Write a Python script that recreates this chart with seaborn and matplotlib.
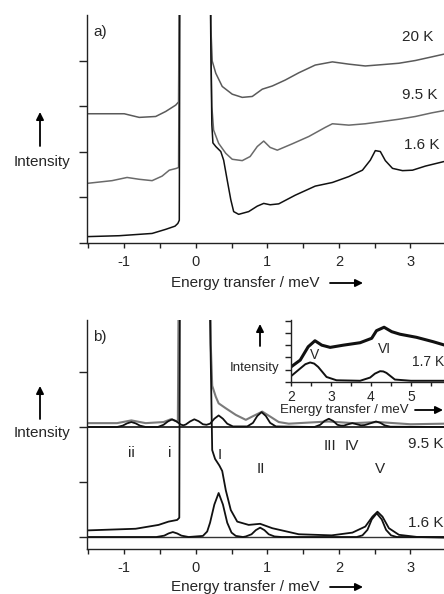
import matplotlib
matplotlib.use("Agg")
import matplotlib.pyplot as plt
from matplotlib.patches import FancyArrowPatch
from matplotlib.ticker import MultipleLocator
import seaborn as sns
import pandas as pd

sns.set_style("ticks")
plt.rcParams['font.family'] = ['Liberation Sans', 'DejaVu Sans']
plt.rcParams['axes.unicode_minus'] = False

# ---------------- Panel a data ----------------
a20_x = [-1.52, -1.0, -0.79, -0.56, -0.42, -0.28, -0.24, -0.215, 0.19, 0.21, 0.23, 0.28, 0.37, 0.51, 0.65,
         0.79, 0.93, 1.07, 1.25, 1.44, 1.67, 1.91, 2.14, 2.37, 2.61, 2.84, 3.07, 3.30, 3.47]
a20_y = [2.84, 2.84, 2.76, 2.78, 2.89, 3.03, 3.10, 10, 10, 4.8, 4.0, 3.73, 3.44, 3.27, 3.20,
         3.22, 3.38, 3.45, 3.58, 3.74, 3.91, 3.98, 3.93, 3.89, 3.92, 3.95, 4.01, 4.09, 4.15]
a95_x = [-1.52, -1.17, -0.96, -0.79, -0.61, -0.47, -0.37, -0.27, -0.24, -0.215, 0.19, 0.21, 0.225, 0.25,
         0.32, 0.42, 0.51, 0.65, 0.76, 0.86, 0.95, 1.04, 1.14, 1.35, 1.58, 1.81, 1.91, 2.14, 2.37,
         2.61, 2.84, 3.07, 3.30, 3.47]
a95_y = [1.31, 1.37, 1.44, 1.40, 1.37, 1.47, 1.60, 1.64, 1.66, 10, 10, 4.5, 3.0, 2.48,
         2.19, 1.97, 1.84, 1.81, 1.90, 2.12, 2.24, 2.10, 2.04, 2.18, 2.34, 2.54, 2.62, 2.59, 2.62,
         2.67, 2.72, 2.78, 2.86, 2.91]
a16_x = [-1.52, -1.07, -0.61, -0.42, -0.29, -0.25, -0.23, -0.215, 0.19, 0.21, 0.225, 0.24, 0.28, 0.35,
         0.39, 0.44, 0.49, 0.53, 0.60, 0.74, 0.86, 0.95, 1.04, 1.16, 1.39, 1.67, 1.91, 2.14, 2.33,
         2.44, 2.51, 2.58, 2.65, 2.75, 2.89, 3.03, 3.21, 3.47]
a16_y = [0.14, 0.16, 0.21, 0.30, 0.37, 0.43, 0.50, 10, 10, 4.5, 2.6, 2.2, 2.12, 2.01,
         1.82, 1.38, 0.95, 0.69, 0.63, 0.69, 0.81, 0.87, 0.84, 0.86, 1.05, 1.25, 1.33, 1.46, 1.60,
         1.82, 2.03, 2.01, 1.81, 1.64, 1.59, 1.60, 1.69, 1.79]
a_labels = ["20 K", "9.5 K", "1.6 K"]

# ---------------- Panel b data ----------------
b95_x = [-1.52, -1.10, -0.90, -0.70, -0.45, -0.35, -0.25, -0.215, 0.19, 0.21, 0.23, 0.28, 0.32, 0.42,
         0.56, 0.70, 0.79, 0.93, 1.04, 1.16, 1.30, 1.85, 2.20, 2.55, 3.00, 3.47]
b95_y = [2.07, 2.07, 2.12, 2.07, 2.09, 2.14, 2.10, 10, 10, 3.5, 2.75, 2.55, 2.43, 2.34,
         2.22, 2.13, 2.19, 2.28, 2.19, 2.09, 2.06, 2.10, 2.07, 2.09, 2.05, 2.06]
fit95_x = [-1.52, -1.10, -1.02, -0.96, -0.90, -0.84, -0.78, -0.70, -0.53, -0.45, -0.39, -0.33, -0.27,
           -0.21, -0.175, -0.14, -0.08, -0.02, 0.04, 0.10, 0.15, 0.20, 0.26, 0.32, 0.38, 0.44, 0.52,
           0.72, 0.80, 0.86, 0.92, 0.98, 1.04, 1.12, 1.66, 1.74, 1.80, 1.86, 1.92, 1.98, 2.03, 2.07,
           2.13, 2.19, 2.25, 2.31, 2.36, 2.40, 2.46, 2.52, 2.58, 2.64, 2.72, 3.47]
fit95_y = [2.0, 2.0, 2.025, 2.066, 2.09, 2.066, 2.025, 2.0, 2.0, 2.04, 2.10, 2.14, 2.10,
           2.045, 2.03, 2.045, 2.10, 2.14, 2.105, 2.05, 2.04, 2.06, 2.15, 2.21, 2.15, 2.06, 2.01,
           2.01, 2.075, 2.20, 2.27, 2.20, 2.075, 2.01, 2.0, 2.04, 2.11, 2.15, 2.11, 2.04, 2.025, 2.025,
           2.05, 2.07, 2.05, 2.03, 2.035, 2.05, 2.075, 2.10, 2.075, 2.03, 2.005, 2.0]
b16_x = [-1.52, -0.84, -0.52, -0.38, -0.26, -0.23, -0.21, 0.19, 0.20, 0.23, 0.27, 0.33, 0.37, 0.42,
         0.49, 0.58, 0.74, 0.90, 1.07, 1.44, 1.90, 2.19, 2.37, 2.47, 2.54, 2.61, 2.70, 2.84, 3.10, 3.47]
b16_y = [0.12, 0.15, 0.22, 0.28, 0.31, 0.35, 10, 10, 4.0, 1.58, 1.42, 1.30, 1.20, 0.85,
         0.49, 0.28, 0.22, 0.24, 0.16, 0.05, 0.03, 0.08, 0.19, 0.37, 0.46, 0.37, 0.16, 0.04, 0.0, -0.01]
fit16_x = [-1.52, -0.55, -0.44, -0.38, -0.32, -0.26, -0.20, -0.10, 0.10, 0.16, 0.20, 0.26, 0.32, 0.38,
           0.44, 0.50, 0.56, 0.66, 0.70, 0.78, 0.84, 0.90, 0.96, 1.02, 1.10, 1.20, 2.25, 2.33, 2.40,
           2.46, 2.53, 2.60, 2.66, 2.73, 2.81, 3.47]
fit16_y = [0.0, 0.0, 0.025, 0.065, 0.09, 0.065, 0.025, 0.0, 0.02, 0.10, 0.26, 0.59, 0.80, 0.59,
           0.26, 0.08, 0.02, 0.0, 0.01, 0.05, 0.125, 0.17, 0.125, 0.05, 0.01, 0.0, 0.0, 0.03, 0.13,
           0.32, 0.43, 0.32, 0.13, 0.03, 0.0, 0.0]
peak_names = ["ii", "i", "I", "II", "III", "IV", "V"]
peak_pos_x = [-0.90, -0.36, 0.34, 0.91, 1.87, 2.18, 2.57]
peak_pos_y = [1.53, 1.53, 1.49, 1.24, 1.65, 1.65, 1.24]

# ---------------- Inset data ----------------
ins_x = [2.0, 2.23, 2.43, 2.60, 2.77, 2.98, 3.31, 3.73, 4.02, 4.14, 4.33, 4.52, 4.73, 5.14, 5.56, 5.85]
ins_y = [1.23, 1.78, 2.87, 3.36, 3.00, 2.82, 3.00, 3.20, 3.56, 4.18, 4.46, 4.10, 3.89, 3.64, 3.28, 3.00]
insfit_x = [2.0, 2.23, 2.36, 2.48, 2.58, 2.68, 2.89, 3.14, 3.73, 3.98, 4.10, 4.23, 4.31, 4.39, 4.60, 5.0, 5.85]
insfit_y = [0.47, 1.10, 1.45, 1.59, 1.50, 1.23, 0.41, 0.14, 0.10, 0.36, 0.68, 0.88, 0.86, 0.74, 0.20, 0.10, 0.10]

W, H = 444, 594
fig = plt.figure(figsize=(W / 100, H / 100), dpi=100)

def fx(px):
    return px / W

def fy(py):
    return 1 - py / H

FS = 11
TICKFS = 10.5

def line(ax, x, y, color, lw):
    df = pd.DataFrame({"x": x, "y": y})
    sns.lineplot(data=df, x="x", y="y", ax=ax, sort=False, estimator=None,
                 color=color, lw=lw)

def style_axes(ax, ylen):
    for s in ["top", "right"]:
        ax.spines[s].set_visible(False)
    for s in ["left", "bottom"]:
        ax.spines[s].set_linewidth(1.0)
        ax.spines[s].set_color("#222222")
    ax.set_xlabel("")
    ax.set_ylabel("")
    ax.xaxis.set_major_locator(MultipleLocator(1))
    ax.xaxis.set_minor_locator(MultipleLocator(0.5))
    ax.tick_params(axis="x", which="both", length=3.5, width=1.0, labelsize=TICKFS, pad=5,
                   color="#222222")
    ax.tick_params(axis="y", which="both", length=ylen, width=1.0, labelleft=False,
                   color="#222222")

# ---------------- Panel a ----------------
ax_a = fig.add_axes([fx(87), fy(243), fx(W - 87), (243 - 15) / H])
line(ax_a, a20_x, a20_y, "#5a5a5a", 1.1)
line(ax_a, a95_x, a95_y, "#6a6a6a", 1.1)
line(ax_a, a16_x, a16_y, "#111111", 1.1)
ax_a.set_xlim(-1.52, 3.47)
ax_a.set_ylim(0, 5.01)
ax_a.set_yticks([0, 1, 2, 3, 4])
style_axes(ax_a, 6)
ax_a.text(-1.34, 4.64, "a)", fontsize=FS, ha="center", va="center")
ax_a.text(2.88, 4.53, a_labels[0], fontsize=FS, ha="left", va="center", clip_on=False)
ax_a.text(2.88, 3.25, a_labels[1], fontsize=FS, ha="left", va="center", clip_on=False)
ax_a.text(2.91, 2.15, a_labels[2], fontsize=FS, ha="left", va="center", clip_on=False)

# ---------------- Panel b ----------------
ax_b = fig.add_axes([fx(87), fy(549), fx(W - 87), (549 - 320) / H])
ax_b.axhline(2.0, color="#111111", lw=1.2)
ax_b.axhline(0.0, color="#333333", lw=1.0)
line(ax_b, b95_x, b95_y, "#7a7a7a", 1.5)
line(ax_b, fit95_x, fit95_y, "#111111", 1.3)
line(ax_b, b16_x, b16_y, "#111111", 1.3)
line(ax_b, fit16_x, fit16_y, "#111111", 1.3)
ax_b.set_xlim(-1.52, 3.47)
ax_b.set_ylim(-0.218, 3.945)
ax_b.set_yticks([0, 1, 2, 3])
style_axes(ax_b, 6)
ax_b.text(-1.34, 3.64, "b)", fontsize=FS, ha="center", va="center")
for name, px_, py_ in zip(peak_names, peak_pos_x, peak_pos_y):
    ax_b.text(px_, py_, name, fontsize=FS, ha="center", va="center")
ax_b.text(2.97, 1.69, "9.5 K", fontsize=FS, ha="left", va="center", clip_on=False)
ax_b.text(2.97, 0.25, "1.6 K", fontsize=FS, ha="left", va="center", clip_on=False)

# ---------------- Inset ----------------
ax_i = fig.add_axes([fx(291), fy(382), fx(W - 291), (382 - 320) / H])
line(ax_i, ins_x, ins_y, "#111111", 2.2)
line(ax_i, insfit_x, insfit_y, "#111111", 1.4)
ax_i.set_xlim(2.0, 5.83)
ax_i.set_ylim(0, 5.05)
ax_i.set_yticks([0, 1, 2, 3, 4, 5])
style_axes(ax_i, 4)
ax_i.tick_params(axis="x", which="both", length=3, labelsize=10, pad=3)
ax_i.text(2.6, 2.19, "V", fontsize=10, ha="center", va="center")
ax_i.text(4.35, 2.68, "VI", fontsize=10, ha="center", va="center")
ax_i.text(5.03, 1.6, "1.7 K", fontsize=10, ha="left", va="center", clip_on=False)

# ---------------- Axis labels with arrows ----------------
def arrow(x1, y1, x2, y2, lw=1.3, ms=11):
    fig.add_artist(FancyArrowPatch((fx(x1), fy(y1)), (fx(x2), fy(y2)), transform=fig.transFigure,
                                   arrowstyle="-|>", mutation_scale=ms, lw=lw, color="black",
                                   shrinkA=0, shrinkB=0))

fig.text(fx(245), fy(283), "Energy transfer / meV", fontsize=FS, ha="center", va="center")
arrow(330, 283, 363, 283)
fig.text(fx(245), fy(587), "Energy transfer / meV", fontsize=FS, ha="center", va="center")
arrow(330, 587, 363, 587)

fig.text(fx(42), fy(162), "Intensity", fontsize=FS, ha="center", va="center")
arrow(40, 146, 40, 112)
fig.text(fx(42), fy(433), "Intensity", fontsize=FS, ha="center", va="center")
arrow(40, 419, 40, 386)

fig.text(fx(255), fy(368), "Intensity", fontsize=9.5, ha="center", va="center")
arrow(260, 346, 260, 324)
fig.text(fx(344), fy(410), "Energy transfer / meV", fontsize=9.5, ha="center", va="center")
arrow(415, 410, 443, 410)

fig.savefig("out.png", dpi=100)
